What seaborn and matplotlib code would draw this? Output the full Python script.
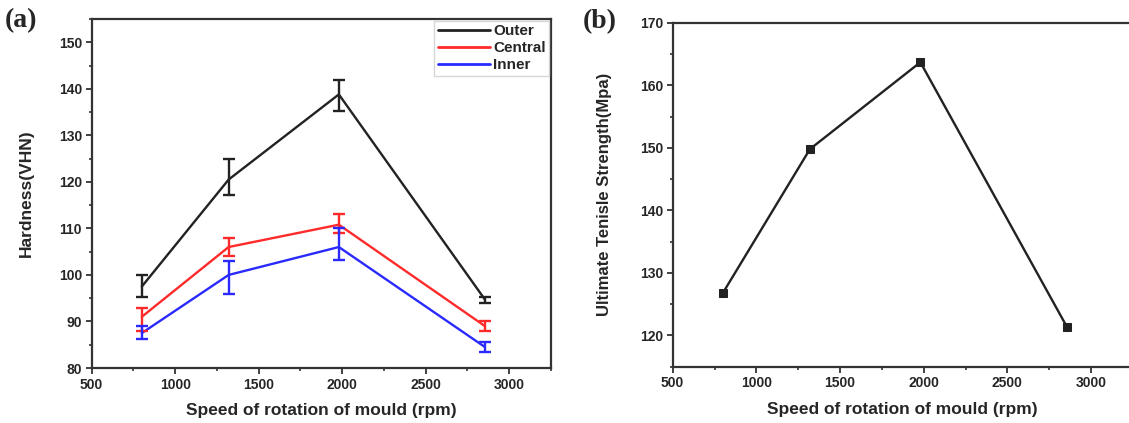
import matplotlib
matplotlib.use("Agg")
import matplotlib.pyplot as plt
import seaborn as sns
import pandas as pd
import numpy as np
from matplotlib.ticker import MultipleLocator

sns.set_theme(style="ticks")
plt.rcParams['font.family'] = ['Liberation Sans', 'DejaVu Sans']
plt.rcParams['font.weight'] = 'bold'

# ---- data ----
speed = [800, 1320, 1980, 2855]
series_names = ["Outer", "Central", "Inner"]
outer = [97.5, 120.5, 138.8, 94.7]
outer_lo = [95.2, 117.2, 135.2, 94.0]
outer_hi = [100.0, 125.0, 142.0, 95.3]
central = [91.0, 106.0, 110.8, 89.0]
central_lo = [88.0, 104.0, 109.0, 88.0]
central_hi = [93.0, 108.0, 113.0, 90.0]
inner = [87.5, 100.0, 106.0, 84.5]
inner_lo = [86.2, 96.0, 103.2, 83.5]
inner_hi = [89.0, 103.0, 110.0, 85.5]
uts = [126.8, 149.8, 163.7, 121.4]

colors = {"Outer": "#222222", "Central": "#ff2a2a", "Inner": "#2a2aff"}

fig = plt.figure(figsize=(11.29, 4.23), dpi=100)
axa = fig.add_axes([0.0812, 0.130, 0.4068, 0.825])
axb = fig.add_axes([0.5958, 0.133, 0.4077, 0.813])

# ---- panel a ----
df = pd.DataFrame({
    "speed": speed * 3,
    "hardness": outer + central + inner,
    "series": ["Outer"] * 4 + ["Central"] * 4 + ["Inner"] * 4,
})
sns.lineplot(data=df, x="speed", y="hardness", hue="series", palette=colors,
             hue_order=series_names, ax=axa, linewidth=1.7, legend=True)
for name, vals, lo, hi in [("Outer", outer, outer_lo, outer_hi),
                           ("Central", central, central_lo, central_hi),
                           ("Inner", inner, inner_lo, inner_hi)]:
    v = np.array(vals); l = np.array(lo); h = np.array(hi)
    axa.errorbar(speed, v, yerr=[v - l, h - v], fmt="none", ecolor=colors[name],
                 elinewidth=1.7, capsize=4.5, capthick=1.7)

axa.set_xlim(500, 3250)
axa.set_ylim(80, 155)
axa.set_xticks([500, 1000, 1500, 2000, 2500, 3000])
axa.set_yticks([80, 90, 100, 110, 120, 130, 140, 150])
axa.set_xlabel("Speed of rotation of mould (rpm)", fontsize=12.5, fontweight="bold", labelpad=8)
axa.set_ylabel("Hardness(VHN)", fontsize=12.5, fontweight="bold", labelpad=18)
leg = axa.legend(loc="upper right", fontsize=11, frameon=True, handlelength=3.4,
                 handletextpad=0.2, borderpad=0.25, labelspacing=0.2,
                 borderaxespad=0.1, fancybox=False, edgecolor="#cccccc")
for t in leg.get_texts():
    t.set_fontweight("bold")
for line in leg.get_lines():
    line.set_linewidth(2.0)

# ---- panel b ----
dfb = pd.DataFrame({"speed": speed, "uts": uts})
sns.lineplot(data=dfb, x="speed", y="uts", ax=axb, color="#222222", linewidth=1.7,
             marker="s", markersize=5.5, markeredgecolor="#222222")
axb.set_xlim(500, 3250)
axb.set_ylim(115, 170)
axb.set_xticks([500, 1000, 1500, 2000, 2500, 3000])
axb.set_yticks([120, 130, 140, 150, 160, 170])
axb.set_xlabel("Speed of rotation of mould (rpm)", fontsize=12.5, fontweight="bold", labelpad=8)
axb.set_ylabel("Ultimate Tenisle Strength(Mpa)", fontsize=12, fontweight="bold", labelpad=20)

for ax in (axa, axb):
    ax.xaxis.set_minor_locator(MultipleLocator(250))
    ax.yaxis.set_minor_locator(MultipleLocator(5))
    ax.tick_params(which="major", direction="out", length=4, width=1.3, labelsize=10,
                   color="#333333", pad=3)
    ax.tick_params(which="minor", direction="out", length=2.5, width=1.2, color="#333333")
    for lab in ax.get_xticklabels() + ax.get_yticklabels():
        lab.set_fontweight("bold")
    for s in ax.spines.values():
        s.set_linewidth(1.6)
        s.set_color("#333333")
        s.set_visible(True)

fig.text(0.004, 0.952, "(a)", fontsize=20, fontweight="bold",
         family=["Liberation Serif", "DejaVu Serif"], va="center", ha="left")
fig.text(0.516, 0.948, "(b)", fontsize=20, fontweight="bold",
         family=["Liberation Serif", "DejaVu Serif"], va="center", ha="left")

fig.savefig("out.png", dpi=100, facecolor="white")
